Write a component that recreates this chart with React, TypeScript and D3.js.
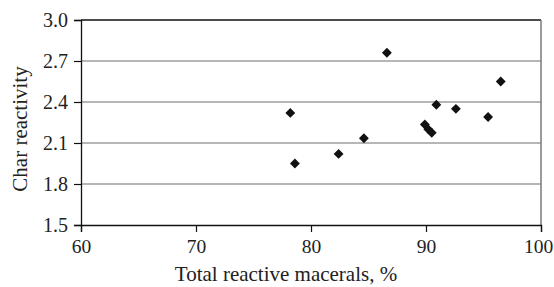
import { useRef, useEffect } from 'react';
import * as d3 from 'd3';

// Total reactive macerals (%) vs char reactivity
const macerals = [86.6, 96.5, 78.2, 90.9, 92.6, 95.4, 89.9, 90.2, 90.5, 84.6, 78.6, 82.4];
const reactivity = [2.76, 2.55, 2.32, 2.38, 2.35, 2.29, 2.235, 2.2, 2.175, 2.135, 1.95, 2.02];
const xTicks = [60, 70, 80, 90, 100];
const yTicks = [1.5, 1.8, 2.1, 2.4, 2.7, 3.0];

export default function App() {
  const svgRef = useRef<SVGSVGElement>(null);

  useEffect(() => {
    if (!svgRef.current) return;
    const width = 554;
    const height = 287;
    const margin = { top: 20, right: 13, bottom: 62, left: 81 };

    const svg = d3.select(svgRef.current);
    svg.selectAll('*').remove();
    svg.attr('width', width).attr('height', height);

    svg.append('rect').attr('width', width).attr('height', height).attr('fill', 'white');

    const x = d3.scaleLinear().domain([60, 100]).range([margin.left, width - margin.right]);
    const y = d3.scaleLinear().domain([1.5, 3.0]).range([height - margin.bottom, margin.top]);
    const font = "'Liberation Serif', 'DejaVu Serif', serif";

    // Gridlines
    svg.append('g')
      .selectAll('line')
      .data(yTicks.filter(d => d > 1.5 && d < 3.0))
      .join('line')
      .attr('x1', x(60)).attr('x2', x(100))
      .attr('y1', d => y(d)).attr('y2', d => y(d))
      .attr('stroke', '#6e6e6e').attr('stroke-width', 1.2);

    // Frame: top black, right gray
    svg.append('line')
      .attr('x1', x(60)).attr('x2', x(100)).attr('y1', y(3)).attr('y2', y(3))
      .attr('stroke', '#111').attr('stroke-width', 1.3);
    svg.append('line')
      .attr('x1', x(100)).attr('x2', x(100)).attr('y1', y(3)).attr('y2', y(1.5))
      .attr('stroke', '#7a7a7a').attr('stroke-width', 1.5);

    // Y axis
    const yAxis = svg.append('g')
      .attr('transform', `translate(${x(60)},0)`)
      .call(d3.axisLeft(y).tickValues(yTicks).tickSize(7).tickPadding(6).tickFormat(d3.format('.1f')));
    yAxis.attr('font-family', null).attr('font-size', null);
    yAxis.select('.domain').attr('stroke', '#111').attr('stroke-width', 1.3);
    yAxis.selectAll('.tick line').attr('stroke', '#111').attr('stroke-width', 1.2);
    yAxis.selectAll('.tick text')
      .attr('fill', '#222').style('font-size', '20px').style('font-family', font);

    // X axis
    const xAxis = svg.append('g')
      .attr('transform', `translate(0,${y(1.5)})`)
      .call(d3.axisBottom(x).tickValues(xTicks).tickSize(7).tickPadding(7).tickFormat(d3.format('d')));
    xAxis.attr('font-family', null).attr('font-size', null);
    xAxis.select('.domain').attr('stroke', '#111').attr('stroke-width', 1.3);
    xAxis.selectAll('.tick line').attr('stroke', '#111').attr('stroke-width', 1.2);
    xAxis.selectAll('.tick text')
      .attr('fill', '#222').style('font-size', '19.5px').style('font-family', font)
      .attr('dx', d => (d === 100 ? -3 : 0));

    // Points (diamonds)
    const diamond = d3.symbol().type(d3.symbolDiamond2).size(62);
    svg.append('g')
      .selectAll('path')
      .data(macerals.map((m, i) => [m, reactivity[i]]))
      .join('path')
      .attr('d', diamond)
      .attr('transform', d => `translate(${x(d[0])},${y(d[1])})`)
      .attr('fill', '#111');

    // Axis titles
    svg.append('text')
      .attr('x', 286).attr('y', 280.5)
      .attr('text-anchor', 'middle')
      .attr('fill', '#222').style('font-size', '21px').style('font-family', font)
      .text('Total reactive macerals, %');

    svg.append('text')
      .attr('transform', `translate(27,129) rotate(-90)`)
      .attr('text-anchor', 'middle')
      .attr('fill', '#222').style('font-size', '21px').style('font-family', font)
      .text('Char reactivity');
  }, []);

  return <svg ref={svgRef} style={{ position: 'absolute', left: 0, top: 0 }} />;
}
